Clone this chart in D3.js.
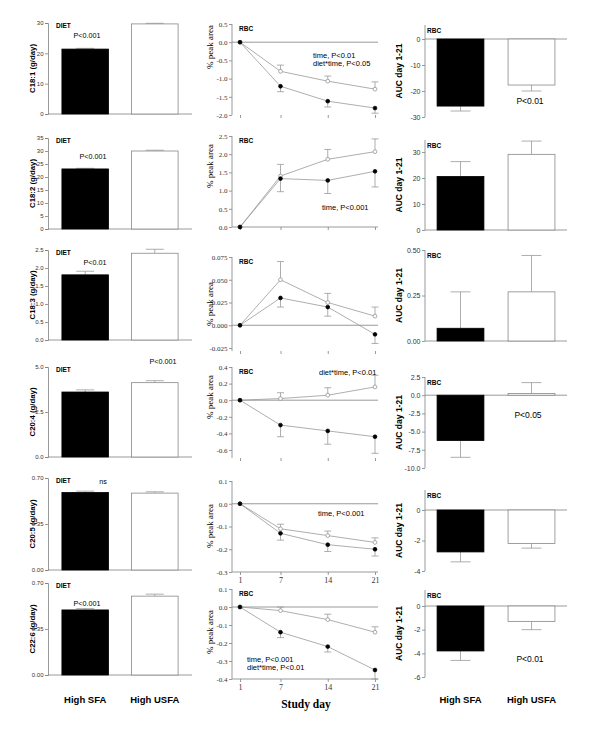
<!DOCTYPE html>
<html>
<head>
<meta charset="utf-8">
<script src="https://cdn.jsdelivr.net/npm/d3@7"></script>
<style>
body { margin: 0; background: #fff; }
text { fill: #000; }
</style>
</head>
<body>
<svg width="600" height="734"></svg>
<script>
// ---- data ----
var acids = ["C18:1", "C18:2", "C18:3", "C20:4", "C20:5", "C22:6"];
var diets = ["High SFA", "High USFA"];
var days = [1, 7, 14, 21];

// dietary intake, g/day
var intakeSFA = [21.4, 23.1, 1.81, 3.61, 0.59, 0.495];
var intakeUSFA = [29.7, 30.0, 2.41, 4.13, 0.585, 0.60];
var intakeErrSFA = [0.25, 0.25, 0.1, 0.12, 0.01, 0.01];
var intakeErrUSFA = [0.2, 0.3, 0.11, 0.11, 0.01, 0.015];
var intakeP = ["P<0.001", "P<0.001", "P<0.01", "P<0.001", "ns", "P<0.001"];
var intakeTicks = [[0, 10, 20, 30], [0, 5, 10, 15, 20, 25, 30, 35], [0, 0.5, 1, 1.5, 2, 2.5],
                   [0, 2.5, 5], [0, 0.35, 0.7], [0, 0.35, 0.7]];
var intakeFmt = ["d", "d", ".1f", ".1f", ".2f", ".2f"];

// RBC change in % peak area over study days
var rbcSFA = [[0, -1.21, -1.62, -1.81], [0, 1.33, 1.28, 1.53], [0, 0.03, 0.02, -0.01],
              [0, -0.30, -0.37, -0.44], [0, -0.13, -0.18, -0.20], [0, -0.14, -0.22, -0.35]];
var rbcErrSFA = [[0, 0.15, 0.16, 0.14], [0, 0.36, 0.36, 0.43], [0, 0.01, 0.01, 0.01],
                 [0, 0.14, 0.16, 0.2], [0, 0.03, 0.03, 0.03], [0, 0.03, 0.03, 0.05]];
var rbcUSFA = [[0, -0.8, -1.07, -1.29], [0, 1.40, 1.86, 2.07], [0, 0.05, 0.025, 0.01],
               [0, 0.02, 0.06, 0.16], [0, -0.11, -0.14, -0.17], [0, -0.02, -0.07, -0.14]];
var rbcErrUSFA = [[0, 0.17, 0.14, 0.2], [0, 0.32, 0.27, 0.35], [0, 0.02, 0.01, 0.01],
                  [0, 0.07, 0.09, 0.14], [0, 0.02, 0.02, 0.02], [0, 0.02, 0.03, 0.03]];
var rbcNotes = [["time, P<0.01", "diet*time, P<0.05"], ["time, P<0.001"], [],
                ["diet*time, P<0.01"], ["time, P<0.001"], ["time, P<0.001", "diet*time, P<0.01"]];
var rbcTicks = [[-2, -1.5, -1, -0.5, 0, 0.5], [0, 0.5, 1, 1.5, 2, 2.5], [-0.025, 0, 0.025, 0.05, 0.075],
                [-0.6, -0.4, -0.2, 0, 0.2, 0.4], [-0.3, -0.2, -0.1, 0, 0.1], [-0.4, -0.3, -0.2, -0.1, 0, 0.1]];
var rbcFmt = [".1f", ".1f", ".3f", ".1f", ".1f", ".1f"];
var rbcLabel = [true, true, true, true, false, true];

// area under curve, day 1-21
var aucSFA = [-25.8, 20.6, 0.07, -6.23, -2.75, -3.8];
var aucUSFA = [-17.7, 29.1, 0.27, 0.23, -2.2, -1.3];
var aucErrSFA = [1.9, 5.7, 0.2, 2.3, 0.65, 0.8];
var aucErrUSFA = [2.3, 5.1, 0.2, 1.5, 0.3, 0.7];
var aucP = ["P<0.01", "", "", "P<0.05", "", "P<0.01"];
var aucTicks = [[-30, -20, -10, 0], [0, 10, 20, 30], [0, 0.25, 0.5], [-10, -7.5, -5, -2.5, 0, 2.5],
                [-4, -2, 0], [-6, -4, -2, 0]];
var aucFmt = ["d", "d", ".2f", ".1f", "d", "d"];

// ---- layout (pixels) ----
var leftY = [[114, 23], [229, 138], [340, 250], [457, 367], [570, 478], [675, 583]];
var leftP = [[87, 38], [93, 159], [95, 265], [163, 364], [103, 484], [87, 606]];
var midY = [[115, 24], [227, 136], [348, 257], [450, 367], [572, 481], [679, 589]];
var midBottom = [115, 227, 351, 458, 572, 679];
var midLabelY = [47, 166, 304, 397, 526, 632];
var midNote = [[313, 58], [322, 210], [0, 0], [319, 375], [318, 516], [247, 662]];
var rightY = [[117, 39], [230, 152], [341, 250], [468, 377], [571, 510], [677, 606]];
var rightTop = [25, 140, 250, 377, 490, 590];
var rightP = [[530, 104], [0, 0], [0, 0], [528, 418], [0, 0], [530, 662]];

var svg = d3.select("svg");
var axisCol = "#808080", tickCol = "#333", lineCol = "#999";
var sans = "Arial, Liberation Sans, sans-serif", serif = "Times New Roman, Liberation Serif, serif";

function styleAxis(g, size, family) {
  g.attr("font-size", size).attr("font-family", family);
  g.selectAll("path, line").attr("stroke", axisCol).attr("stroke-width", 0.8);
  g.selectAll("text").style("fill", tickCol);
}

function fmtTick(spec) {
  var f = d3.format(spec);
  return function(d) { return f(d).replace("−", "-"); };
}

function errBar(g, x, y0, y1, half) {
  g.append("line").attr("x1", x).attr("x2", x).attr("y1", y0).attr("y2", y1)
    .attr("stroke", lineCol).attr("stroke-width", 0.8);
  g.append("line").attr("x1", x - half).attr("x2", x + half).attr("y1", y1).attr("y2", y1)
    .attr("stroke", lineCol).attr("stroke-width", 0.8);
}

// ---- left column: diet intake ----
var xDiet = d3.scaleBand().domain(diets).range([48, 192]).paddingInner(0.33).paddingOuter(0.2);

acids.forEach(function(acid, i) {
  var t = intakeTicks[i];
  var y = d3.scaleLinear().domain([t[0], t[t.length - 1]]).range(leftY[i]);
  var g = svg.append("g");

  g.append("g").attr("transform", "translate(48,0)")
    .call(d3.axisLeft(y).tickValues(t).tickSize(3).tickPadding(1.5).tickFormat(fmtTick(intakeFmt[i])))
    .call(styleAxis, 6, sans);

  g.append("line").attr("x1", 48).attr("x2", 192).attr("y1", y(0)).attr("y2", y(0))
    .attr("stroke", axisCol).attr("stroke-width", 0.8);

  var vals = [intakeSFA[i], intakeUSFA[i]], errs = [intakeErrSFA[i], intakeErrUSFA[i]];
  diets.forEach(function(d, j) {
    var cx = xDiet(d) + xDiet.bandwidth() / 2;
    errBar(g, cx, y(vals[j]), y(vals[j] + errs[j]), 9);
    g.append("rect").attr("x", xDiet(d)).attr("width", xDiet.bandwidth())
      .attr("y", y(vals[j])).attr("height", y(0) - y(vals[j]))
      .attr("fill", j === 0 ? "#000" : "#fff")
      .attr("stroke", j === 0 ? "#000" : "#888").attr("stroke-width", 0.8);
  });

  g.append("text").attr("transform", "translate(35," + ((leftY[i][0] + leftY[i][1]) / 2) + ") rotate(-90)")
    .attr("text-anchor", "middle").attr("font-family", sans)
    .attr("font-size", 7.8).attr("font-weight", "bold").text(acid + " (g/day)");

  g.append("text").attr("x", 56).attr("y", leftY[i][1] + 4.5)
    .attr("font-family", sans).attr("font-size", 6.5)
    .attr("font-weight", "bold").text("DIET");

  g.append("text").attr("x", leftP[i][0]).attr("y", leftP[i][1]).attr("text-anchor", "middle")
    .attr("font-family", sans).attr("font-size", 7.2)
    .text(intakeP[i]);
});

// ---- middle column: RBC time course ----
var xDay = d3.scaleLinear().domain([1, 21]).range([240, 375]);

acids.forEach(function(acid, i) {
  var t = rbcTicks[i];
  var y = d3.scaleLinear().domain([t[0], t[t.length - 1]]).range(midY[i]);
  var g = svg.append("g");

  var yAxis = g.append("g").attr("transform", "translate(232,0)")
    .call(d3.axisLeft(y).tickValues(t).tickSize(3).tickPadding(1.5).tickFormat(fmtTick(rbcFmt[i])))
    .call(styleAxis, 7, serif);
  yAxis.select(".domain").remove();
  g.append("line").attr("x1", 232).attr("x2", 232).attr("y1", midY[i][1]).attr("y2", midBottom[i])
    .attr("stroke", axisCol).attr("stroke-width", 0.8);

  var labelled = i >= 4;
  var xAxis = g.append("g").attr("transform", "translate(0," + midBottom[i] + ")")
    .call(d3.axisBottom(xDay).tickValues(days).tickSize(3).tickPadding(2)
      .tickFormat(labelled ? d3.format("d") : ""))
    .call(styleAxis, 8, serif);
  if (!labelled) xAxis.select(".domain").remove();
  else xAxis.select(".domain").attr("d", "M232,0H378");

  g.append("line").attr("x1", 232).attr("x2", 378).attr("y1", y(0)).attr("y2", y(0))
    .attr("stroke", axisCol).attr("stroke-width", 0.8);

  var line = d3.line().x(function(d, k) { return xDay(days[k]); }).y(function(d) { return y(d); });

  [[rbcSFA[i], rbcErrSFA[i], -1], [rbcUSFA[i], rbcErrUSFA[i], 1]].forEach(function(s) {
    s[0].forEach(function(v, k) {
      if (s[1][k] > 0) errBar(g, xDay(days[k]), y(v), y(v + s[2] * s[1][k]), 3.5);
    });
    g.append("path").attr("d", line(s[0])).attr("fill", "none")
      .attr("stroke", lineCol).attr("stroke-width", 0.8);
  });
  [[rbcUSFA[i], "#fff", "#888"], [rbcSFA[i], "#000", "#000"]].forEach(function(s) {
    g.selectAll(null).data(s[0]).enter().append("circle")
      .attr("cx", function(d, k) { return xDay(days[k]); })
      .attr("cy", function(d) { return y(d); })
      .attr("r", 1.9).attr("fill", s[1]).attr("stroke", s[2]).attr("stroke-width", 0.7);
  });

  g.append("text").attr("transform", "translate(213," + midLabelY[i] + ") rotate(-90)")
    .attr("text-anchor", "middle").attr("font-family", serif)
    .attr("font-size", 9).text("% peak area");

  if (rbcLabel[i]) {
    g.append("text").attr("x", 239).attr("y", midY[i][1] + 7)
      .attr("font-family", sans).attr("font-size", 6.5)
      .attr("font-weight", "bold").text("RBC");
  }

  rbcNotes[i].forEach(function(n, k) {
    g.append("text").attr("x", midNote[i][0]).attr("y", midNote[i][1] + k * 8)
      .attr("font-family", sans).attr("font-size", 7.5).text(n);
  });
});

// ---- right column: AUC ----
var xAuc = d3.scaleBand().domain(diets).range([425, 567]).paddingInner(0.34).paddingOuter(0.17);

acids.forEach(function(acid, i) {
  var t = aucTicks[i];
  var y = d3.scaleLinear().domain([t[0], t[t.length - 1]]).range(rightY[i]);
  var g = svg.append("g");

  var yAxis = g.append("g").attr("transform", "translate(425,0)")
    .call(d3.axisLeft(y).tickValues(t).tickSize(3).tickPadding(1.5).tickFormat(fmtTick(aucFmt[i])))
    .call(styleAxis, 7, sans);
  yAxis.select(".domain").remove();
  g.append("line").attr("x1", 425).attr("x2", 425).attr("y1", rightTop[i]).attr("y2", rightY[i][0])
    .attr("stroke", axisCol).attr("stroke-width", 0.8);

  g.append("line").attr("x1", 425).attr("x2", 567).attr("y1", y(0)).attr("y2", y(0))
    .attr("stroke", axisCol).attr("stroke-width", 0.8);

  var vals = [aucSFA[i], aucUSFA[i]], errs = [aucErrSFA[i], aucErrUSFA[i]];
  diets.forEach(function(d, j) {
    var cx = xAuc(d) + xAuc.bandwidth() / 2;
    var dir = vals[j] < 0 ? -1 : 1;
    errBar(g, cx, y(vals[j]), y(vals[j] + dir * errs[j]), 10);
    g.append("rect").attr("x", xAuc(d)).attr("width", xAuc.bandwidth())
      .attr("y", Math.min(y(vals[j]), y(0))).attr("height", Math.abs(y(0) - y(vals[j])))
      .attr("fill", j === 0 ? "#000" : "#fff")
      .attr("stroke", j === 0 ? "#000" : "#888").attr("stroke-width", 0.8);
  });

  g.append("text").attr("transform", "translate(402," + ((rightTop[i] + rightY[i][0]) / 2) + ") rotate(-90)")
    .attr("text-anchor", "middle").attr("font-family", sans)
    .attr("font-size", 8.5).attr("font-weight", "bold").text("AUC day 1-21");

  g.append("text").attr("x", 427).attr("y", rightTop[i] + 8)
    .attr("font-family", sans).attr("font-size", 6.5)
    .attr("font-weight", "bold").text("RBC");

  if (aucP[i]) {
    g.append("text").attr("x", rightP[i][0]).attr("y", rightP[i][1]).attr("text-anchor", "middle")
      .attr("font-family", sans).attr("font-size", 8.5).text(aucP[i]);
  }
});

// ---- bottom labels ----
[xDiet, xAuc].forEach(function(x) {
  diets.forEach(function(d) {
    svg.append("text").attr("x", x(d) + x.bandwidth() / 2).attr("y", 703).attr("text-anchor", "middle")
      .attr("font-family", sans).attr("font-size", 9.5)
      .attr("font-weight", "bold").text(d);
  });
});
svg.append("text").attr("x", 306).attr("y", 708).attr("text-anchor", "middle")
  .attr("font-family", serif).attr("font-size", 11.5)
  .attr("font-weight", "bold").text("Study day");
</script>
</body>
</html>
